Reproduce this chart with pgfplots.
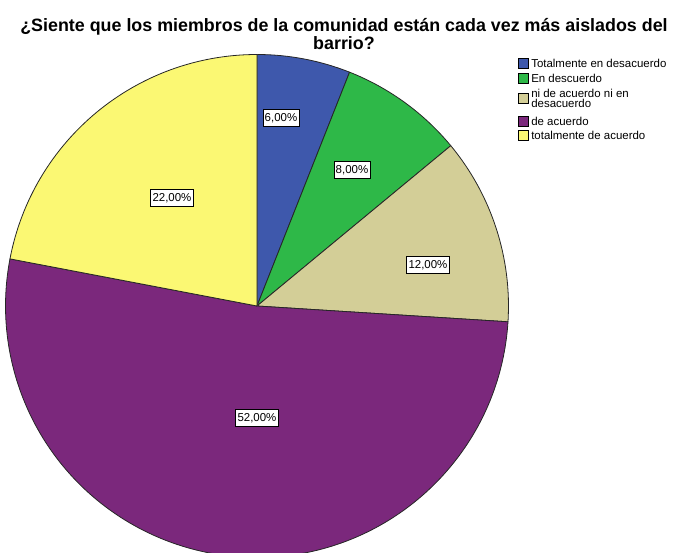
\documentclass[border=0pt]{standalone}
\usepackage{pgfplots}
\usepackage{pgfplotstable}
\pgfplotsset{compat=1.18}
\usepackage{fontspec}
\setmainfont{Liberation Sans}

\definecolor{spssblue}{HTML}{3E58AC}
\definecolor{spssgreen}{HTML}{2EB848}
\definecolor{spsstan}{HTML}{D3CE97}
\definecolor{spsspurple}{HTML}{7B287C}
\definecolor{spssyellow}{HTML}{FBF873}

\newcommand\labelfont{\fontsize{8.6}{9.5}\selectfont}

% percentages, slice colour, label position (pixels from top left)
\pgfplotstableread{
value colour     lx  ly
6     spssblue   281 118
8     spssgreen  352 170
12    spsstan    428 265
52    spsspurple 257 418
22    spssyellow 172 198
}\piedata

\begin{document}
\begin{tikzpicture}
\begin{axis}[
    x=0.75pt, y=0.75pt,
    xmin=0, xmax=679, ymin=0, ymax=553,
    hide axis,
    clip=true,
]
\path (axis cs:0,0) rectangle (axis cs:679,553);

\pgfplotstablegetrowsof{\piedata}
\pgfmathtruncatemacro{\lastrow}{\pgfplotsretval-1}
\def\cum{0}
\pgfplotsforeachungrouped \i in {0,...,\lastrow}{
    \pgfplotstablegetelem{\i}{value}\of{\piedata}\let\val\pgfplotsretval
    \pgfplotstablegetelem{\i}{colour}\of{\piedata}\let\col\pgfplotsretval
    \pgfmathsetmacro{\sa}{90-3.6*\cum}
    \pgfmathsetmacro{\cum}{\cum+\val}
    \pgfmathsetmacro{\ea}{90-3.6*\cum}
    \edef\slice{\noexpand\filldraw[fill=\col, draw=black!85, line width=0.6pt, line join=round]
        (axis cs:257,247) -- (axis cs:{257+251.5*cos(\sa)},{247+251.5*sin(\sa)})
        arc[start angle=\sa, end angle=\ea, radius=188.625pt] -- cycle;}
    \slice
}
\pgfplotsforeachungrouped \i in {0,...,\lastrow}{
    \pgfplotstablegetelem{\i}{value}\of{\piedata}\let\val\pgfplotsretval
    \pgfplotstablegetelem{\i}{lx}\of{\piedata}\let\lx\pgfplotsretval
    \pgfplotstablegetelem{\i}{ly}\of{\piedata}\let\ly\pgfplotsretval
    \edef\lab{\noexpand\node[draw=black, fill=white, line width=0.6pt,
        inner xsep=1.3pt, inner ysep=0pt, minimum height=12.5pt,
        font=\noexpand\labelfont]
        at (axis cs:\lx,{553-\ly}) {\val,00\noexpand\%};}
    \lab
}

% title
\node[align=center, font=\fontsize{13.4}{12.4}\selectfont\bfseries]
    at (axis cs:344,519) {¿Siente que los miembros de la comunidad están cada vez más aislados del\\barrio?};

% legend
\begin{scope}[font=\labelfont]
\filldraw[fill=spssblue, draw=black, line width=0.5pt] (axis cs:518,{553-58}) rectangle (axis cs:528,{553-68});
\node[anchor=west, inner sep=0pt] at (axis cs:531,{553-63}) {Totalmente en desacuerdo};
\filldraw[fill=spssgreen, draw=black, line width=0.5pt] (axis cs:518,{553-73}) rectangle (axis cs:528,{553-83});
\node[anchor=west, inner sep=0pt] at (axis cs:531,{553-78}) {En descuerdo};
\filldraw[fill=spsstan, draw=black, line width=0.5pt] (axis cs:518,{553-93.5}) rectangle (axis cs:528,{553-103.5});
\node[anchor=west, inner sep=0pt, align=left, font=\fontsize{8.6}{7.5}\selectfont] at (axis cs:531,{553-98.5}) {ni de acuerdo ni en\\desacuerdo};
\filldraw[fill=spsspurple, draw=black, line width=0.5pt] (axis cs:518,{553-116}) rectangle (axis cs:528,{553-126});
\node[anchor=west, inner sep=0pt] at (axis cs:531,{553-121}) {de acuerdo};
\filldraw[fill=spssyellow, draw=black, line width=0.5pt] (axis cs:518,{553-130.5}) rectangle (axis cs:528,{553-140.5});
\node[anchor=west, inner sep=0pt] at (axis cs:531,{553-135.5}) {totalmente de acuerdo};
\end{scope}
\end{axis}
\end{tikzpicture}
\end{document}
